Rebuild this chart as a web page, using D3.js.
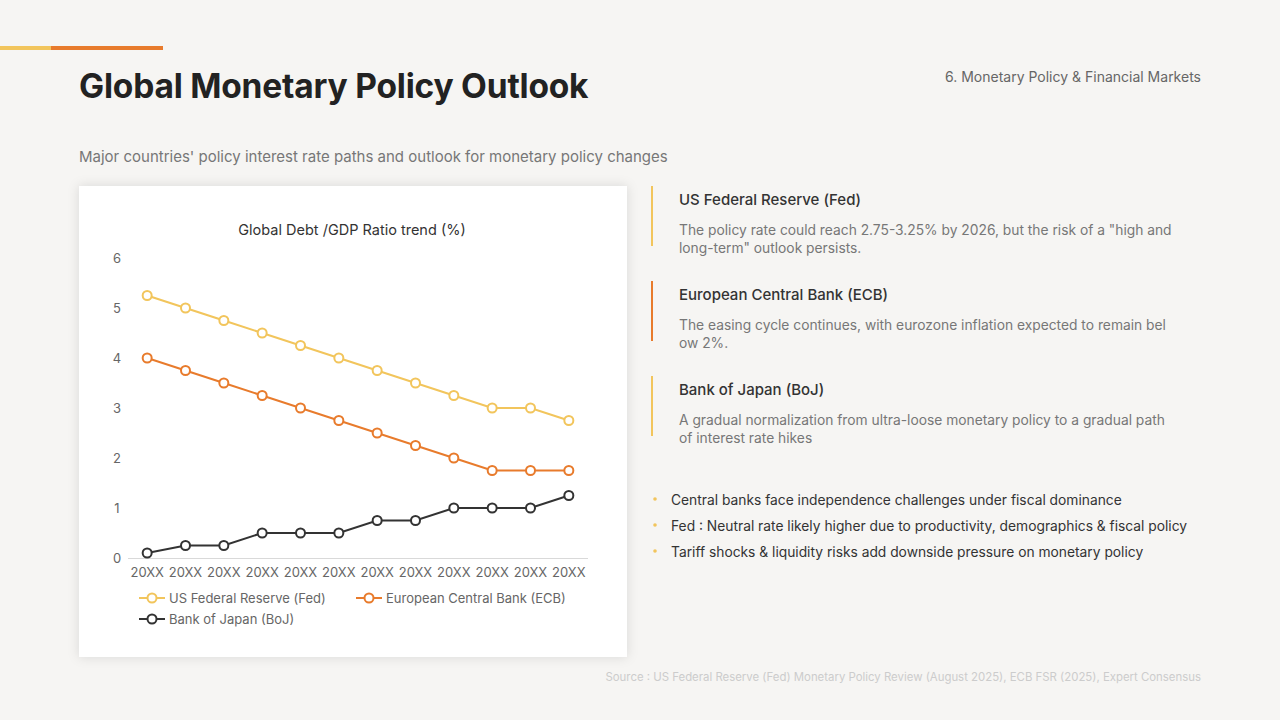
<!DOCTYPE html>
<html><head><meta charset="utf-8">
<script src="https://cdn.jsdelivr.net/npm/d3@7"></script>
<style>
body{margin:0;width:1280px;height:720px;background:#f6f5f3;font-family:Inter,"Noto Sans",sans-serif;overflow:hidden}
</style></head><body>
<svg id="page" width="1280" height="720"></svg>
<script>
const categories = ['20XX','20XX','20XX','20XX','20XX','20XX','20XX','20XX','20XX','20XX','20XX','20XX']
const fed = [5.25,5,4.75,4.5,4.25,4,3.75,3.5,3.25,3,3,2.75]
const ecb = [4,3.75,3.5,3.25,3,2.75,2.5,2.25,2,1.75,1.75,1.75]
const boj = [0.1,0.25,0.25,0.5,0.5,0.5,0.75,0.75,1,1,1,1.25]
const yTicks = [0,1,2,3,4,5,6]
const seriesNames = ['US Federal Reserve (Fed)','European Central Bank (ECB)','Bank of Japan (BoJ)']
const colors = ['#f2c55c','#e87b2c','#333333']

const svg = d3.select('#page')

// header
svg.append('rect').attr('x',0).attr('y',46).attr('width',51).attr('height',4).attr('fill','#f2c55c')
svg.append('rect').attr('x',51).attr('y',46).attr('width',112).attr('height',4).attr('fill','#e87b2c')
svg.append('text').attr('x',79).attr('y',98).attr('font-size',33.5).attr('font-weight',700)
   .attr('fill','#222').attr('letter-spacing','-0.2').text('Global Monetary Policy Outlook')
svg.append('text').attr('x',1201).attr('y',82).attr('text-anchor','end').attr('font-size',14)
   .attr('fill','#666').text('6. Monetary Policy & Financial Markets')
svg.append('text').attr('x',79).attr('y',162).attr('font-size',15).attr('fill','#777')
   .text("Major countries' policy interest rate paths and outlook for monetary policy changes")

// card
const defs = svg.append('defs')
const f = defs.append('filter').attr('id','sh').attr('x','-10%').attr('y','-10%').attr('width','120%').attr('height','120%')
f.append('feDropShadow').attr('dx',0).attr('dy',0).attr('stdDeviation',6).attr('flood-color','#000').attr('flood-opacity',0.12)
svg.append('rect').attr('x',79).attr('y',186).attr('width',548).attr('height',471).attr('fill','#fff').attr('filter','url(#sh)')

svg.append('text').attr('x',352).attr('y',235).attr('text-anchor','middle').attr('font-size',14.5)
   .attr('fill','#333').text('Global Debt /GDP Ratio trend (%)')

const x = d3.scaleBand().domain(d3.range(categories.length)).range([128,588])
const y = d3.scaleLinear().domain([0,6]).range([558,258])

const g = svg.append('g').attr('font-size',13).attr('fill','#666')
g.selectAll('.yt').data(yTicks).enter().append('text')
  .attr('x',117).attr('y',d=>y(d)+5).attr('text-anchor','middle').attr('fill','#666').text(d=>d)
g.append('line').attr('x1',128).attr('x2',588).attr('y1',558.5).attr('y2',558.5).attr('stroke','#d9d9d9')
g.selectAll('.xt').data(categories).enter().append('text')
  .attr('x',(d,i)=>x(i)+x.bandwidth()/2).attr('y',577).attr('text-anchor','middle').attr('fill','#666').text(d=>d)

const line = d3.line().x((d,i)=>x(i)+x.bandwidth()/2).y(d=>y(d))
;[fed,ecb,boj].forEach((s,k)=>{
  svg.append('path').attr('d',line(s)).attr('fill','none').attr('stroke',colors[k]).attr('stroke-width',2)
  svg.selectAll('.p'+k).data(s).enter().append('circle')
    .attr('cx',(d,i)=>x(i)+x.bandwidth()/2).attr('cy',d=>y(d)).attr('r',4.5)
    .attr('fill','#fff').attr('stroke',colors[k]).attr('stroke-width',2)
})

// legend
const legPos = [[139,598],[356,598],[139,619]]
seriesNames.forEach((n,k)=>{
  const [lx,ly] = legPos[k]
  const lg = svg.append('g')
  lg.append('line').attr('x1',lx).attr('x2',lx+26).attr('y1',ly).attr('y2',ly).attr('stroke',colors[k]).attr('stroke-width',2)
  lg.append('circle').attr('cx',lx+13).attr('cy',ly).attr('r',4.5).attr('fill','#fff').attr('stroke',colors[k]).attr('stroke-width',2)
  lg.append('text').attr('x',lx+30).attr('y',ly+5).attr('font-size',13).attr('fill','#666').text(n)
})

// right panel
const blocks = [
  {t:'US Federal Reserve (Fed)', c:'#f2c55c', y:186, lines:['The policy rate could reach 2.75-3.25% by 2026, but the risk of a "high and','long-term" outlook persists.']},
  {t:'European Central Bank (ECB)', c:'#e87b2c', y:281, lines:['The easing cycle continues, with eurozone inflation expected to remain bel','ow 2%.']},
  {t:'Bank of Japan (BoJ)', c:'#f2c55c', y:376, lines:['A gradual normalization from ultra-loose monetary policy to a gradual path','of interest rate hikes']}
]
blocks.forEach(b=>{
  svg.append('rect').attr('x',651).attr('y',b.y).attr('width',2).attr('height',60).attr('fill',b.c)
  svg.append('text').attr('x',679).attr('y',b.y+19).attr('font-size',15).attr('font-weight',500).attr('fill','#333').text(b.t)
  b.lines.forEach((l,i)=>svg.append('text').attr('x',679).attr('y',b.y+49+i*18).attr('font-size',13.8).attr('fill','#777').text(l))
})
const bullets = ['Central banks face independence challenges under fiscal dominance',
  'Fed : Neutral rate likely higher due to productivity, demographics & fiscal policy',
  'Tariff shocks & liquidity risks add downside pressure on monetary policy']
bullets.forEach((b,i)=>{
  svg.append('circle').attr('cx',655).attr('cy',499+i*26).attr('r',1.8).attr('fill','#f2c55c')
  svg.append('text').attr('x',671).attr('y',505+i*26).attr('font-size',13.8).attr('fill','#333').text(b)
})
svg.append('text').attr('x',1201).attr('y',681).attr('text-anchor','end').attr('font-size',11.4)
  .attr('fill','#ccc').text('Source : US Federal Reserve (Fed) Monetary Policy Review (August 2025), ECB FSR (2025), Expert Consensus')
</script></body></html>
